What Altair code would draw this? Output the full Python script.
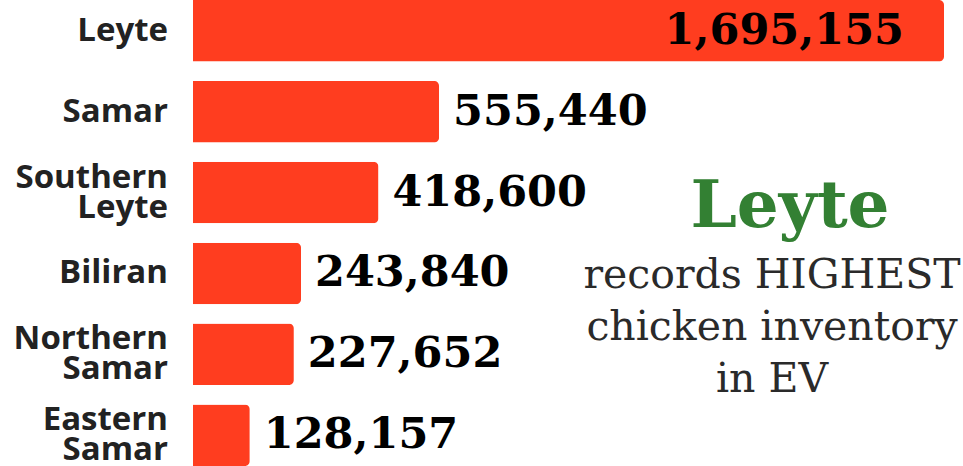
import altair as alt
import pandas as pd

regions = ["Leyte", "Samar", "Southern\nLeyte", "Biliran", "Northern\nSamar", "Eastern\nSamar"]
inventory = [1695155, 555440, 418600, 243840, 227652, 128157]
note_title = "Leyte"
note_lines = ["records  HIGHEST", "chicken inventory", "in EV"]

df = pd.DataFrame({"region": regions, "inventory": inventory})

y_enc = alt.Y("region:N", sort=None, axis=None,
              scale=alt.Scale(domain=regions, paddingInner=0.24, paddingOuter=0))
x_enc = alt.X("inventory:Q", axis=None,
              scale=alt.Scale(domain=[0, 1695155], nice=False, zero=True))

base = alt.Chart(df)

bars = base.mark_bar(color="#ff3d1f", cornerRadiusEnd=5).encode(x=x_enc, y=y_enc)

lab_style = dict(align="right", baseline="middle", lineBreak="\n", font="Open Sans",
                 fontWeight="bold", fontSize=33, color="#222222", lineHeight=30)

cat_single = base.transform_filter("indexof(datum.region, '\\n') < 0").mark_text(
    **lab_style
).encode(x=alt.value(-25), y=y_enc, text="region:N")

cat_multi = base.transform_filter("indexof(datum.region, '\\n') >= 0").mark_text(
    dy=-15, **lab_style
).encode(x=alt.value(-25), y=y_enc, text="region:N")

val_font = dict(font="DejaVu Serif", fontWeight="bold", fontSize=43, color="#000000", baseline="middle")

vals_out = base.transform_filter("datum.inventory < 1000000").mark_text(
    align="left", dx=14, **val_font
).encode(x=x_enc, y=y_enc, text=alt.Text("inventory:Q", format=","))

vals_in = base.transform_filter("datum.inventory >= 1000000").mark_text(
    align="right", dx=-40, **val_font
).encode(x=x_enc, y=y_enc, text=alt.Text("inventory:Q", format=","))

title_df = pd.DataFrame({"t": [note_title]})
note_title_mark = alt.Chart(title_df).mark_text(
    font="DejaVu Serif", fontWeight="bold", fontSize=66, color="#338033",
    align="center", baseline="alphabetic"
).encode(x=alt.value(597), y=alt.value(227), text="t:N")

body_layers = []
for line, ypos in zip(note_lines, [288, 340, 392]):
    ldf = pd.DataFrame({"t": [line]})
    body_layers.append(
        alt.Chart(ldf).mark_text(
            font="DejaVu Serif", fontSize=41, color="#2a2a2a",
            align="center", baseline="alphabetic"
        ).encode(x=alt.value(579), y=alt.value(ypos), text="t:N")
    )

chart = alt.layer(bars, cat_single, cat_multi, vals_out, vals_in, note_title_mark, *body_layers).properties(
    width=751, height=466,
    autosize=alt.AutoSizeParams(type="none"),
    padding={"left": 193, "top": 0, "right": 19, "bottom": 0},
    background="white",
).configure_view(stroke=None)

chart.save("out.html", embed_options={"renderer": "svg", "actions": False})
